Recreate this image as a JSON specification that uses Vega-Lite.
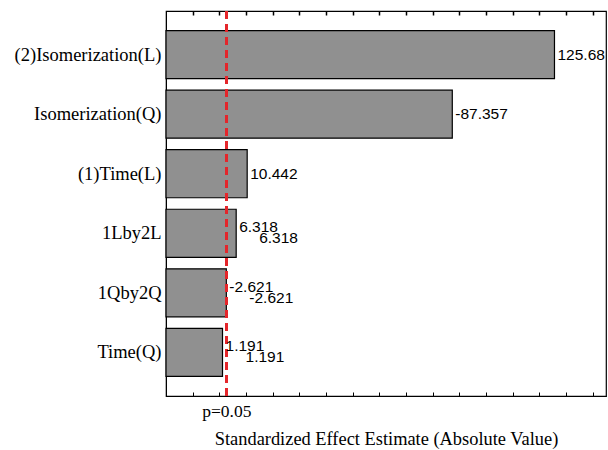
{
  "$schema": "https://vega.github.io/schema/vega-lite/v6.json",
  "autosize": "none",
  "width": 440,
  "height": 385,
  "padding": {"left": 166, "top": 11, "right": 2, "bottom": 54},
  "background": "white",
  "config": {
    "view": {"stroke": "black", "strokeWidth": 1.2},
    "axis": {"domainColor": "black", "tickColor": "black", "labelColor": "black", "titleColor": "black", "grid": false}
  },
  "data": {
    "values": [
      {"effect": "(2)Isomerization(L)", "estimate": 125.68, "abs": 125.68, "label": "125.68"},
      {"effect": "Isomerization(Q)", "estimate": -87.357, "abs": 87.357, "label": "-87.357"},
      {"effect": "(1)Time(L)", "estimate": 10.442, "abs": 10.442, "label": "10.442"},
      {"effect": "1Lby2L", "estimate": 6.318, "abs": 6.318, "label": "6.318"},
      {"effect": "1Qby2Q", "estimate": -2.621, "abs": 2.621, "label": "-2.621"},
      {"effect": "Time(Q)", "estimate": 1.191, "abs": 1.191, "label": "1.191"}
    ]
  },
  "encoding": {
    "y": {
      "field": "effect", "type": "nominal",
      "sort": ["(2)Isomerization(L)", "Isomerization(Q)", "(1)Time(L)", "1Lby2L", "1Qby2Q", "Time(Q)"],
      "scale": {"paddingInner": 0.193, "paddingOuter": 0.33},
      "axis": {"title": null, "labelFont": "Liberation Serif", "labelFontSize": 18.5, "labelPadding": 8, "tickSize": -3, "domain": true}
    }
  },
  "layer": [
    {
      "mark": {"type": "bar", "fill": "#909090", "stroke": "black", "strokeWidth": 1.2},
      "encoding": {
        "x": {
          "field": "abs", "type": "quantitative",
          "scale": {"domain": [-20, 145], "nice": false, "zero": false},
          "axis": {
            "orient": "bottom",
            "title": "Standardized Effect Estimate (Absolute Value)",
            "titleFont": "Liberation Serif", "titleFontSize": 18.4, "titleFontWeight": "normal", "titlePadding": 10,
            "values": [-10, 0, 2.6, 10, 20, 30, 40, 50, 60, 70, 80, 90, 100, 110, 120, 130, 140],
            "labelExpr": "datum.value == 2.6 ? 'p=0.05' : ''",
            "labelFont": "Liberation Serif", "labelFontSize": 17.5, "labelPadding": 10,
            "tickSize": -4
          }
        },
        "x2": {"datum": -20}
      }
    },
    {
      "mark": {"type": "rule", "color": "#e5262b", "strokeDash": [8, 5], "strokeWidth": 2.5},
      "encoding": {
        "x": {"datum": 2.6, "type": "quantitative", "axis": null},
        "y": null
      }
    },
    {
      "transform": [{"filter": "datum.abs > 8"}],
      "mark": {"type": "text", "align": "left", "baseline": "middle", "dx": 3, "font": "Liberation Sans", "fontSize": 15.5, "color": "black"},
      "encoding": {"x": {"field": "abs", "type": "quantitative",
        "axis": {"orient": "top", "title": null, "labels": false, "ticks": true, "domain": false, "tickSize": -4, "tickWidth": 1.5, "values": [-10, 0, 10, 20, 30, 40, 50, 60, 70, 80, 90, 100, 110, 120, 130, 140]}},
        "text": {"field": "label"}}
    },
    {
      "transform": [{"filter": "datum.abs < 8"}],
      "mark": {"type": "text", "align": "left", "baseline": "middle", "dx": 3, "dy": -6, "font": "Liberation Sans", "fontSize": 15.5, "color": "black"},
      "encoding": {"x": {"field": "abs", "type": "quantitative", "axis": null}, "text": {"field": "label"}}
    },
    {
      "transform": [{"filter": "datum.abs < 8"}],
      "mark": {"type": "text", "align": "left", "baseline": "middle", "dx": 23, "dy": 5, "font": "Liberation Sans", "fontSize": 15.5, "color": "black"},
      "encoding": {"x": {"field": "abs", "type": "quantitative", "axis": null}, "text": {"field": "label"}}
    }
  ],
  "resolve": {"axis": {"x": "independent"}}
}
